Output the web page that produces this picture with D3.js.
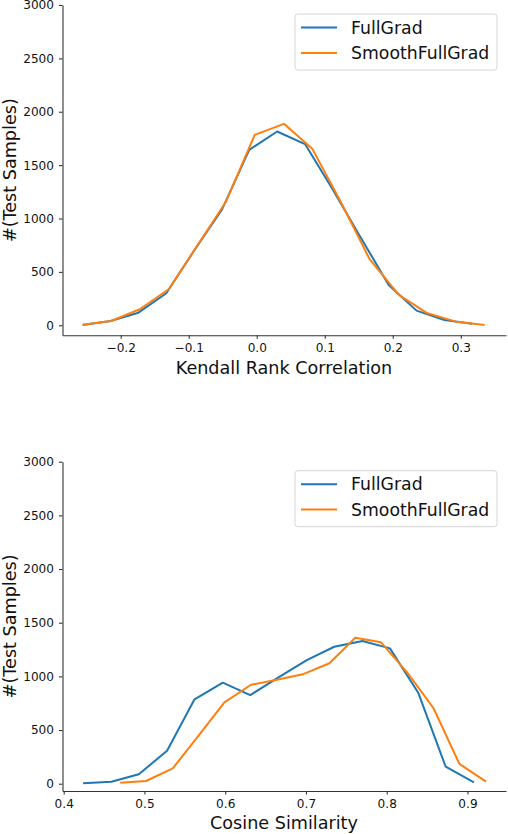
<!DOCTYPE html>
<html>
<head>
<meta charset="utf-8">
<script src="https://cdn.jsdelivr.net/npm/d3@7"></script>
<style>
  body { margin: 0; background: #fff; }
  svg { display: block; font-family: "DejaVu Sans", sans-serif; }
</style>
</head>
<body>
<script>
// Series names
const seriesNames = ["FullGrad", "SmoothFullGrad"];
const colors = ["#1f77b4", "#ff7f0e"];

// Top panel: Kendall rank correlation histogram (bin centres, counts)
const kendallFullX = [-0.256, -0.215, -0.174, -0.133, -0.092, -0.051, -0.011, 0.030, 0.071, 0.112, 0.153, 0.194, 0.235, 0.276, 0.317];
const kendallFullY = [2, 40, 118, 300, 700, 1085, 1643, 1815, 1697, 1270, 820, 378, 137, 50, 15];
const kendallSmoothX = [-0.256, -0.214, -0.172, -0.129, -0.087, -0.045, -0.003, 0.040, 0.082, 0.124, 0.166, 0.209, 0.251, 0.293, 0.335];
const kendallSmoothY = [5, 40, 150, 340, 750, 1160, 1784, 1887, 1650, 1150, 619, 284, 112, 34, 3];
const kendallTicks = [-0.2, -0.1, 0.0, 0.1, 0.2, 0.3];

// Bottom panel: cosine similarity histogram
const cosineFullX = [0.424, 0.459, 0.493, 0.528, 0.562, 0.597, 0.631, 0.666, 0.701, 0.735, 0.770, 0.804, 0.839, 0.873, 0.908];
const cosineFullY = [4, 19, 88, 307, 786, 941, 826, 990, 1152, 1276, 1330, 1261, 848, 158, 13];
const cosineSmoothX = [0.470, 0.502, 0.535, 0.567, 0.599, 0.632, 0.664, 0.696, 0.729, 0.761, 0.793, 0.826, 0.858, 0.890, 0.923];
const cosineSmoothY = [9, 25, 143, 449, 758, 922, 969, 1019, 1122, 1360, 1317, 1030, 703, 184, 19];
const cosineTicks = [0.4, 0.5, 0.6, 0.7, 0.8, 0.9];

const countTicks = [0, 500, 1000, 1500, 2000, 2500, 3000];

const width = 508;
const height = 834;

const svg = d3.select("body")
    .append("svg")
    .attr("width", width)
    .attr("height", height);

function drawPanel(opts) {
    const x = d3.scaleLinear().domain(opts.xDomain).range([62.5, 506]);
    const y = d3.scaleLinear().domain(opts.yDomain).range([opts.bottom, opts.top]);
    const g = svg.append("g");

    // axes
    const xAxis = d3.axisBottom(x)
        .tickValues(opts.xTicks)
        .tickSizeInner(3.5)
        .tickSizeOuter(0)
        .tickPadding(4.5)
        .tickFormat(d => d3.format(".1f")(d).replace("-", "\u2212"));
    const yAxis = d3.axisLeft(y)
        .tickValues(countTicks)
        .tickSizeInner(3.5)
        .tickSizeOuter(0)
        .tickPadding(5)
        .tickFormat(d3.format("d"));

    const gx = g.append("g")
        .attr("transform", `translate(0,${opts.bottom})`)
        .call(xAxis);
    const gy = g.append("g")
        .attr("transform", `translate(62.5,0)`)
        .call(yAxis);

    [gx, gy].forEach(a => {
        a.selectAll("path").attr("stroke", "#333").attr("stroke-width", 1.1);
        a.selectAll("line").attr("stroke", "#333").attr("stroke-width", 1.1);
        a.selectAll("text")
            .attr("fill", "#111")
            .style("font-size", "12.1px")
            .style("font-family", "'DejaVu Sans', sans-serif");
    });

    // series lines
    const line = d3.line().x(d => x(d[0])).y(d => y(d[1]));
    opts.series.forEach((s, i) => {
        g.append("path")
            .datum(d3.zip(s.xs, s.ys))
            .attr("fill", "none")
            .attr("stroke", colors[i])
            .attr("stroke-width", 2)
            .attr("stroke-linejoin", "round")
            .attr("d", line);
    });

    // axis labels
    g.append("text")
        .attr("x", 284)
        .attr("y", opts.xLabelY)
        .attr("text-anchor", "middle")
        .style("font-size", "17.6px")
        .attr("fill", "#111")
        .text(opts.xLabel);

    g.append("text")
        .attr("transform", `translate(15.5,${(opts.top + opts.bottom) / 2}) rotate(-90)`)
        .attr("text-anchor", "middle")
        .style("font-size", "17.6px")
        .attr("fill", "#111")
        .text("#(Test Samples)");

    // legend
    const lg = g.append("g").attr("transform", `translate(295,${opts.top + 9})`);
    lg.append("rect")
        .attr("width", 202)
        .attr("height", 56)
        .attr("rx", 3)
        .attr("fill", "#fff")
        .attr("stroke", "#d6d6d6")
        .attr("stroke-width", 1);
    seriesNames.forEach((name, i) => {
        const yy = 13.5 + i * 25.4;
        lg.append("line")
            .attr("x1", 6).attr("x2", 42)
            .attr("y1", yy).attr("y2", yy)
            .attr("stroke", colors[i])
            .attr("stroke-width", 2);
        lg.append("text")
            .attr("x", 56)
            .attr("y", yy)
            .attr("dy", "0.36em")
            .style("font-size", "17.3px")
            .attr("fill", "#111")
            .text(name);
    });
}

drawPanel({
    top: 5, bottom: 335.3,
    xDomain: [-0.2856, 0.3665],
    yDomain: [-94, 3000],
    xTicks: kendallTicks,
    xLabel: "Kendall Rank Correlation",
    xLabelY: 374,
    series: [
        { xs: kendallFullX, ys: kendallFullY },
        { xs: kendallSmoothX, ys: kendallSmoothY }
    ]
});

drawPanel({
    top: 461.7, bottom: 791,
    xDomain: [0.3985, 0.9477],
    yDomain: [-68, 3000],
    xTicks: cosineTicks,
    xLabel: "Cosine Similarity",
    xLabelY: 829,
    series: [
        { xs: cosineFullX, ys: cosineFullY },
        { xs: cosineSmoothX, ys: cosineSmoothY }
    ]
});
</script>
</body>
</html>
